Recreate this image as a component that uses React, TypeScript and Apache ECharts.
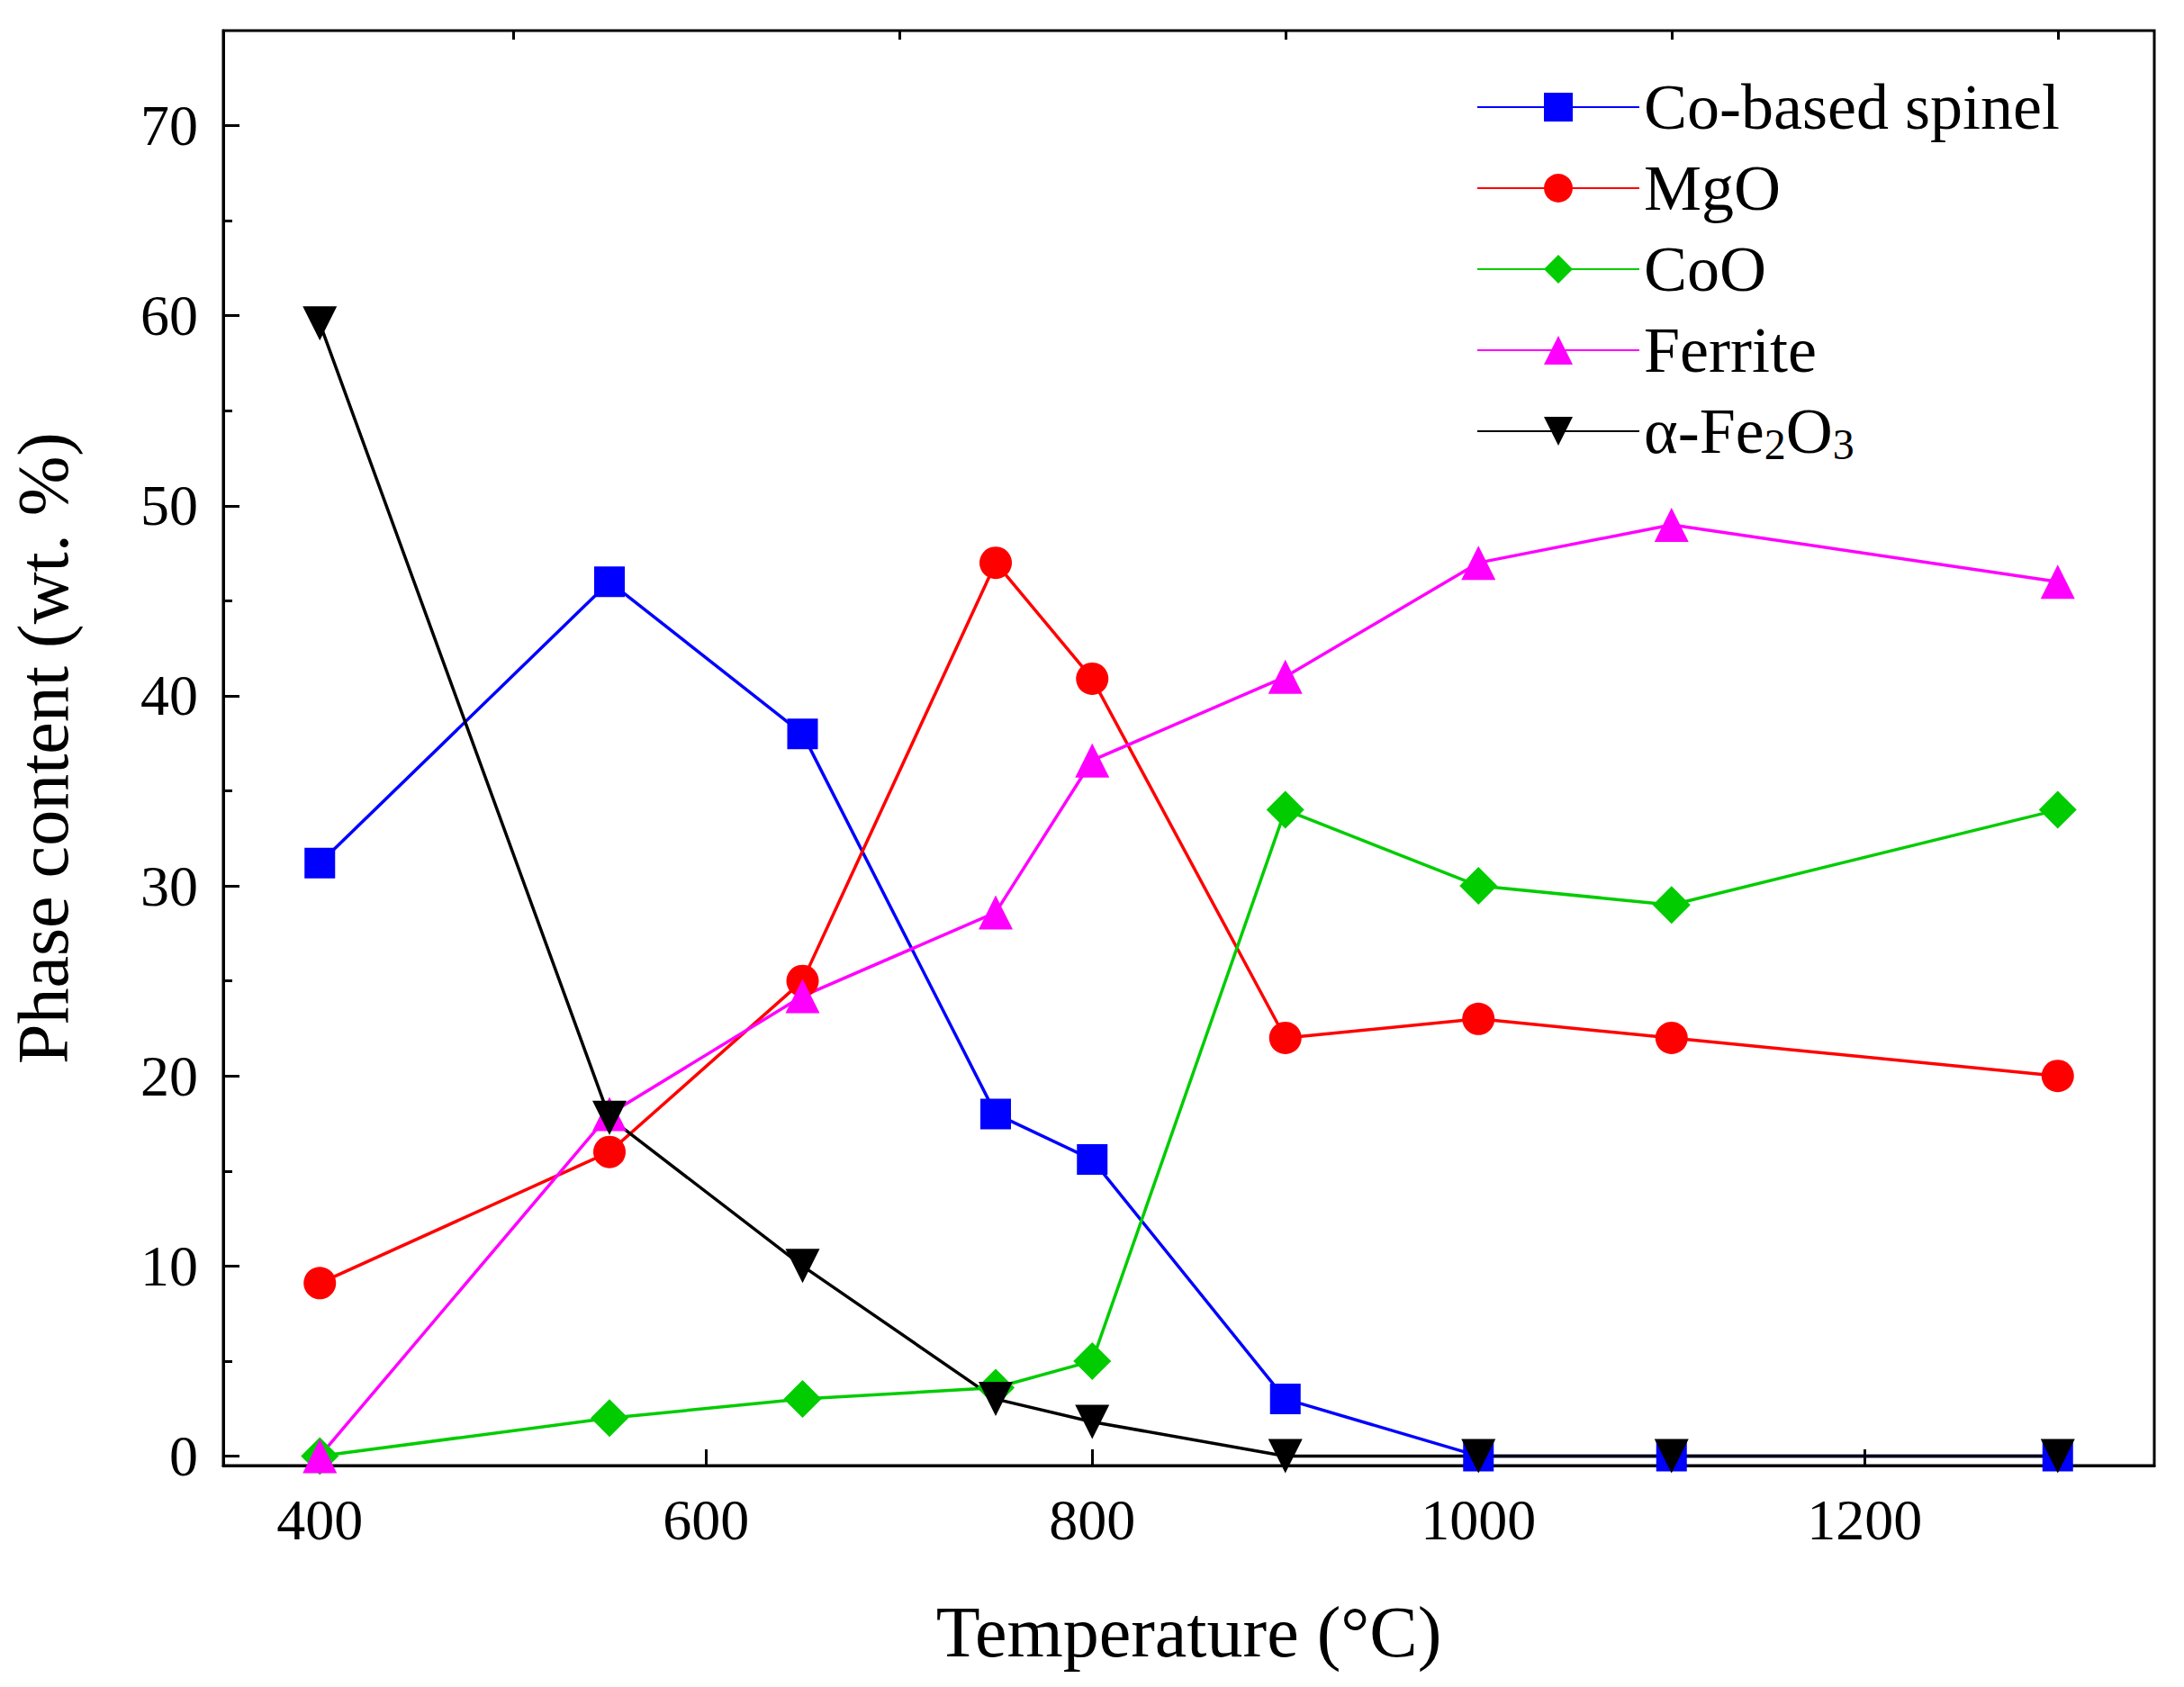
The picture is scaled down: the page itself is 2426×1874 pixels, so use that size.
import React, { useEffect, useRef } from "react";
import * as echarts from "echarts";

const temps = [400, 550, 650, 750, 800, 900, 1000, 1100, 1300];
const spinel = [31.2, 46, 38, 18, 15.6, 3, 0, 0, 0];
const mgo = [9.1, 16, 25, 47, 40.9, 22, 23, 22, 20];
const coo = [0, 2, 3, 3.6, 5, 34, 30, 29, 34];
const ferrite = [0, 18, 24.2, 28.6, 36.6, 41, 47, 49, 46];
const fe2o3 = [59.6, 17.8, 10, 3, 1.8, 0, 0, 0, 0];
const xMajor = [400, 600, 800, 1000, 1200];
const xMinor = [500, 700, 900, 1100, 1300];
const yMajor = [0, 10, 20, 30, 40, 50, 60, 70];
const yMinor = [5, 15, 25, 35, 45, 55, 65];

const FONT = "Liberation Serif";

export default function App() {
  const ref = useRef<HTMLDivElement>(null);
  useEffect(() => {
    const chart = echarts.init(ref.current!, undefined, { renderer: "svg" });
    const mk = (name: string, data: number[], color: string, symbol: string, rot = 0, size = 36) => ({
      name,
      type: "line",
      data: temps.map((t, i) => [t, data[i]]),
      symbol,
      symbolSize: size,
      symbolRotate: rot,
      itemStyle: { color },
      lineStyle: { color, width: 3.5 },
    });
    const xBase = { type: "value", min: 350, max: 1350, gridIndex: 0, splitLine: { show: false } };
    const yBase = { type: "value", min: -0.5, max: 75, gridIndex: 0, splitLine: { show: false } };
    chart.setOption({
      animation: false,
      backgroundColor: "#fff",
      grid: { left: 222, right: 33, top: 34, bottom: 246, show: true, borderColor: "#000", borderWidth: 3 },
      xAxis: [
        {
          ...xBase,
          name: "Temperature (°C)",
          nameLocation: "middle",
          nameGap: 145,
          nameTextStyle: { fontFamily: FONT, fontSize: 80, color: "#000" },
          axisLine: { onZero: false, lineStyle: { color: "#000", width: 3 } },
          axisTick: { inside: true, length: 18, customValues: xMajor, lineStyle: { width: 3, color: "#000" } },
          axisLabel: { customValues: xMajor, formatter: (v: number) => String(v), fontFamily: FONT, fontSize: 64, color: "#000", margin: 28 },
        },
        {
          ...xBase,
          axisLine: { show: false, onZero: false },
          axisTick: { inside: true, length: 10, customValues: xMinor, lineStyle: { width: 3, color: "#000" } },
          axisLabel: { show: false },
        },
      ],
      yAxis: [
        {
          ...yBase,
          name: "Phase content (wt. %)",
          nameLocation: "middle",
          nameGap: 160,
          nameTextStyle: { fontFamily: FONT, fontSize: 80, color: "#000" },
          axisLine: { onZero: false, lineStyle: { color: "#000", width: 3 } },
          axisTick: { inside: true, length: 18, customValues: yMajor, lineStyle: { width: 3, color: "#000" } },
          axisLabel: { customValues: yMajor, fontFamily: FONT, fontSize: 64, color: "#000", margin: 28 },
        },
        {
          ...yBase,
          position: "left",
          axisLine: { show: false, onZero: false },
          axisTick: { inside: true, length: 10, customValues: yMinor, lineStyle: { width: 3, color: "#000" } },
          axisLabel: { show: false },
        },
      ],
      legend: {
        orient: "vertical",
        left: 1635,
        top: 78,
        itemWidth: 180,
        itemHeight: 40,
        itemGap: 18,
        textStyle: {
          fontFamily: FONT,
          fontSize: 72,
          color: "#000",
          rich: { sub: { fontFamily: FONT, fontSize: 48, verticalAlign: "bottom", padding: [28, 0, 0, 0] } },
        },
        formatter: (n: string) => (n === "α-Fe2O3" ? "α-Fe{sub|2}O{sub|3}" : n),
      },
      series: [
        mk("Co-based spinel", spinel, "#0000ff", "rect", 0, 34),
        mk("MgO", mgo, "#ff0000", "circle", 0, 36),
        mk("CoO", coo, "#00cc00", "diamond", 0, 42),
        mk("Ferrite", ferrite, "#ff00ff", "triangle", 0, 38),
        mk("α-Fe2O3", fe2o3, "#000000", "triangle", 180, 38),
      ],
    });
    return () => chart.dispose();
  }, []);
  return <div ref={ref} style={{ position: "absolute", left: 0, top: 0, width: 2426, height: 1874 }} />;
}
